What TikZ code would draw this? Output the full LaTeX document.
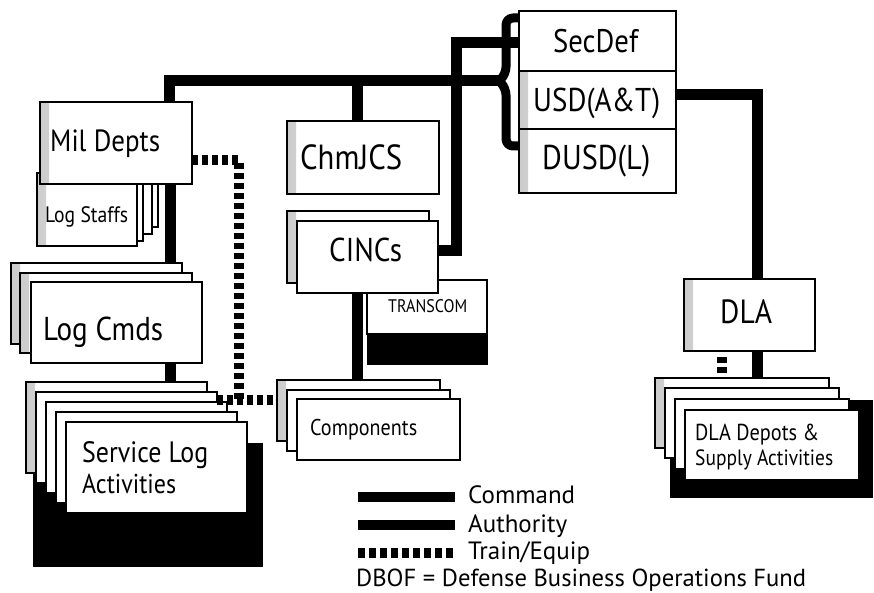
\documentclass[tikz,border=0pt]{standalone}
\usepackage{fontspec}
\setmainfont{PT Sans}[FakeStretch=0.88]
\newfontfamily\widefont{PT Sans}
\usetikzlibrary{fit}
\tikzset{
  card/.style={draw, line width=2.6pt, fill=white, inner sep=0pt, outer sep=0pt},
  sh/.style={path picture={\shade[left color=gray!40,right color=white] (path picture bounding box.south west) rectangle ([xshift=9pt]path picture bounding box.north west);}},
  blk/.style={fill=black, draw=black, line width=1pt},
  cmdline/.style={line width=11pt, line join=miter},
  teline/.style={line width=10pt, dash pattern=on 6pt off 4pt},
  lbl/.style={inner sep=0pt, anchor=base west},
  lgd/.style={inner sep=0pt, anchor=base west, font=\widefont\fontsize{25}{29}\selectfont},
  bracepath/.style={line width=9pt, rounded corners=7pt, line join=round},
}
\newcommand{\crd}[6][]{\node[card,#1,fit={(#3,#4) (#5,#6)}] (#2) {};}
\newcommand{\fw}[2]{\resizebox{#1pt}{!}{#2}}
\begin{document}
\begin{tikzpicture}[x=1pt,y=-1pt]
\fill[white] (0,0) rectangle (874,593);
\useasboundingbox (0,0) rectangle (874,593);

% ---- black shadows ----
\node[blk, fit={(33,443) (262,566)}, inner sep=0pt] (svShadow) {};
\node[blk, fit={(670,400) (872,497)}, inner sep=0pt] (depShadow) {};
\node[blk, fit={(367,280) (487,364)}, inner sep=0pt] (trShadow) {};

% ---- SecDef stack ----
\crd{sec}{519}{11}{676}{71}
\crd[sh]{usd}{519}{71}{676}{129}
\crd[sh]{dusd}{519}{129}{676}{193}

% ---- Log Staffs ----
\crd{ls1}{58}{154}{158}{227}
\crd{ls2}{52}{161}{152}{234}
\crd{ls3}{43}{168}{143}{241}
\crd[sh]{ls4}{37}{173}{137}{246}

% ---- Mil Depts ----
\crd[sh]{mil}{40}{102}{192}{184}

% ---- Log Cmds ----
\crd[sh]{lc1}{11}{263}{182}{344}
\crd[sh]{lc2}{20}{273}{192}{353}
\crd{lc3}{31}{282}{202}{363}

% ---- Service Log Activities ----
\crd[sh]{sv1}{26}{382}{207}{473}
\crd{sv2}{36}{392}{217}{483}
\crd{sv3}{46}{402}{227}{493}
\crd{sv4}{56}{412}{237}{503}
\crd{sv5}{66}{422}{247}{513}

% ---- ChmJCS ----
\crd[sh]{chm}{287}{121}{439}{194}

% ---- TRANSCOM ----
\crd{tr}{367}{280}{487}{334}

% ---- CINCs ----
\crd[sh]{ci1}{287}{211}{429}{283}
\crd{ci2}{297}{221}{438}{293}

% ---- Components ----
\crd[sh]{co1}{277}{380}{440}{441}
\crd{co2}{287}{390}{450}{451}
\crd{co3}{297}{399}{460}{460}

% ---- DLA ----
\crd[sh]{dla}{684}{279}{815}{351}

% ---- DLA depots ----
\crd[sh]{dp1}{655}{378}{829}{448}
\crd{dp2}{665}{388}{839}{458}
\crd{dp3}{675}{399}{849}{469}
\crd{dp4}{685}{410}{859}{480}

% ---- junction coordinates ----
\coordinate (tip) at (499,81);
\coordinate (jL) at (169,81);
\coordinate (jC) at (357.5,81);
\coordinate (jS) at (456,43);
\coordinate (jS2) at (456,251);
\coordinate (jD) at (757,95);
\coordinate (jM) at (170,200);
\coordinate (jT) at (239,160);
\coordinate (jT2) at (239,400);
\coordinate (jE) at (722,357);

% ---- connectors ----
\draw[cmdline] (tip) -- (jL) -- (jL |- mil.north);
\draw[cmdline] (jC) -- (jC |- chm.north);
\draw[cmdline] (sec.west |- jS) -- (jS) -- (jS2) -- (jS2 -| ci2.east);
\draw[cmdline] (usd.east |- jD) -- (jD) -- (jD |- dla.north);
\draw[cmdline] (jD |- dla.south) -- (jD |- dp1.north);
\draw[cmdline] (jM |- mil.south) -- (jM |- lc1.north);
\draw[cmdline] (jM |- lc3.south) -- (jM |- sv1.north);
\draw[cmdline] (jC |- ci2.south) -- (jC |- co1.north);
\draw[teline] (mil.east |- jT) -- (jT) -- (jT2);
\draw[teline] (sv2.east |- jT2) -- (jT2 -| co1.west);
\draw[teline] (jE) -- (jE |- dp1.north);

% ---- brace ----
\draw[bracepath] (sec.west |- 0,18) -- (506,18) -- (506,74) -- (tip);
\draw[bracepath] (tip) -- (506,88) -- (506,146) -- (dusd.west |- 0,146);

% ---- labels ----
\node[lbl] (tSec) at (553,53) {\fw{85}{SecDef}};
\node[lbl] (tUsd) at (533,112) {\fw{127}{USD(A\&T)}};
\node[lbl] (tDusd) at (542,170) {\fw{108}{DUSD(L)}};
\node[lbl] (tMil) at (50,152) {\fw{110}{Mil Depts}};
\node[lbl] (tLs) at (45,223) {\fw{83}{Log Staffs}};
\node[lbl] (tLc) at (43,340) {\fw{120}{Log Cmds}};
\node[lbl] (tSv1) at (82,462) {\fw{126}{Service Log}};
\node[lbl] (tSv2) at (82,493) {\fw{94}{Activities}};
\node[lbl] (tChm) at (300,170) {\fw{102}{ChmJCS}};
\node[lbl] (tCi) at (329,262) {\fw{73}{CINCs}};
\node[lbl] (tTr) at (388,312) {\fw{79}{TRANSCOM}};
\node[lbl] (tCo) at (310,435) {\fw{107}{Components}};
\node[lbl] (tDla) at (720,323) {\fw{52}{DLA}};
\node[lbl] (tDp1) at (695,440) {\fw{124}{DLA Depots \&}};
\node[lbl] (tDp2) at (695,465) {\fw{138}{Supply Activities}};

% ---- legend ----
\node[lgd] (lgC) at (468,503) {Command};
\node[lgd] (lgA) at (468,532) {Authority};
\node[lgd] (lgT) at (468,559) {Train/Equip};
\coordinate (lgCs) at (358,497);
\coordinate (lgAs) at (358,525);
\coordinate (lgTs) at (358,553);
\draw[line width=10pt] (lgCs) -- (lgCs -| 455,0);
\draw[line width=10pt] (lgAs) -- (lgAs -| 455,0);
\draw[line width=10pt, dash pattern=on 7pt off 4pt] (lgTs) -- (lgTs -| 456,0);
\node[lbl] (dbof) at (356,586) {\widefont\fw{450}{DBOF = Defense Business Operations Fund}};
\end{tikzpicture}
\end{document}
